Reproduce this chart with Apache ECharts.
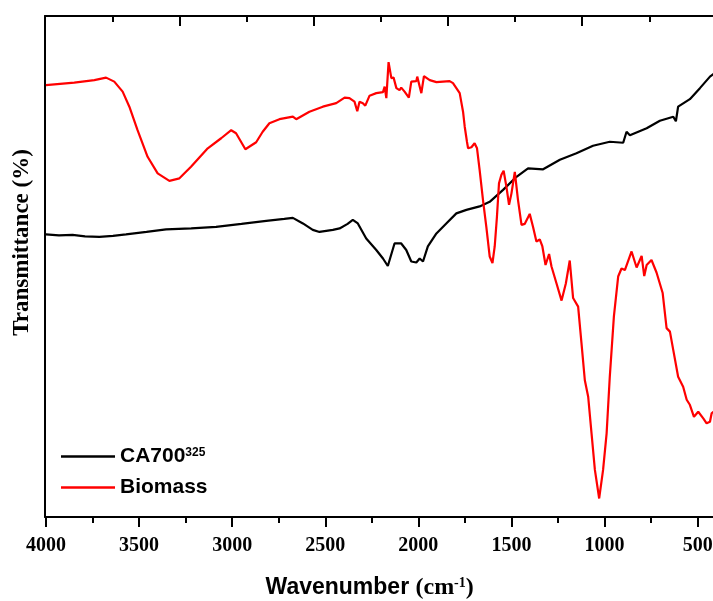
<!DOCTYPE html>
<html>
<head>
<meta charset="utf-8">
<script src="https://cdn.jsdelivr.net/npm/echarts@6/dist/echarts.min.js"></script>
<style>html,body{margin:0;padding:0;background:#fff;}#c{width:713px;height:601px;}</style>
</head>
<body>
<div id="c"></div>
<script>
// ---- data (wavenumber cm^-1, transmittance arbitrary %) ----
const seriesNames = ['CA700', 'Biomass'];
const legendSup = '325';
const majorTicks = [4000, 3500, 3000, 2500, 2000, 1500, 1000, 500];
const minorTicks = [3750, 3250, 2750, 2250, 1750, 1250, 750];
const topMajorTicks = [3280, 2560, 1840, 1120];
const topMinorTicks = [3640, 2920, 2200, 1480, 760];

const ca700 = [
  [4000,56.4],[3930,56.2],[3857,56.3],[3790,56.0],[3713,55.9],[3640,56.1],[3570,56.4],[3460,56.9],[3355,57.4],
  [3220,57.6],[3086,57.9],[2950,58.5],[2817,59.1],[2720,59.5],[2674,59.7],[2620,58.6],[2567,57.3],[2531,56.9],
  [2459,57.3],[2423,57.6],[2380,58.5],[2352,59.3],[2325,58.6],[2280,55.6],[2226,53.3],[2190,51.6],[2164,50.1],
  [2128,54.6],[2092,54.6],[2065,53.3],[2038,51.0],[2011,50.8],[1993,51.6],[1975,51.0],[1949,54.0],[1903,56.6],
  [1850,58.6],[1796,60.6],[1742,61.3],[1671,62.0],[1617,62.9],[1545,65.3],[1473,67.9],[1411,69.6],[1330,69.4],
  [1240,71.3],[1151,72.6],[1062,74.1],[972,74.9],[900,74.7],[882,76.9],[864,76.2],[774,77.6],[703,79.1],
  [631,79.9],[617,79.0],[605,81.9],[542,83.4],[488,85.6],[434,87.9],[400,88.8]
];

const biomass = [
  [4000,86.2],[3848,86.7],[3740,87.2],[3677,87.7],[3633,86.9],[3588,84.9],[3552,81.9],[3508,77.2],[3454,71.9],
  [3400,68.6],[3337,67.1],[3283,67.6],[3221,69.9],[3131,73.6],[3059,75.6],[3005,77.2],[2979,76.6],[2929,73.4],
  [2871,74.8],[2836,76.9],[2800,78.6],[2746,79.4],[2674,79.9],[2656,79.4],[2585,80.9],[2513,81.9],[2441,82.6],
  [2396,83.7],[2370,83.6],[2343,82.9],[2328,81.0],[2316,82.9],[2298,82.6],[2285,82.1],[2262,84.1],[2226,84.6],
  [2190,84.8],[2181,85.9],[2172,83.6],[2160,90.8],[2145,87.6],[2133,87.7],[2118,85.6],[2101,85.2],[2092,85.7],
  [2074,84.9],[2051,83.7],[2038,86.9],[2011,87.0],[2006,87.9],[1984,84.6],[1970,88.0],[1939,87.2],[1903,86.8],
  [1832,87.0],[1814,86.6],[1778,84.6],[1760,80.9],[1751,77.9],[1739,74.9],[1733,73.6],[1715,73.8],[1698,74.6],
  [1685,73.6],[1671,69.3],[1653,63.3],[1635,57.9],[1617,52.0],[1602,50.7],[1590,54.0],[1578,59.9],[1567,66.6],
  [1554,68.3],[1542,69.1],[1527,65.9],[1513,62.3],[1500,64.6],[1482,68.9],[1465,63.3],[1446,58.3],[1429,58.5],
  [1402,60.5],[1384,57.9],[1366,55.0],[1348,55.4],[1334,54.0],[1317,50.3],[1298,52.5],[1285,50.0],[1258,46.6],
  [1231,43.2],[1208,46.6],[1187,51.2],[1169,43.7],[1142,42.0],[1124,34.7],[1106,27.3],[1088,24.0],[1070,16.7],
  [1052,9.4],[1029,3.7],[1008,9.4],[989,16.7],[972,28.0],[950,40.0],[927,48.0],[909,49.6],[891,49.3],
  [855,53.0],[828,49.8],[801,52.1],[787,48.1],[774,50.3],[748,51.3],[721,48.8],[688,44.7],[667,37.7],
  [649,37.0],[631,33.3],[605,28.0],[578,26.0],[559,23.4],[542,22.4],[520,20.0],[497,21.0],[470,19.7],
  [452,18.7],[434,19.0],[425,20.7],[400,21.5]
];

const chart = echarts.init(document.getElementById('c'), null, {renderer: 'canvas'});
const black = '#000';
const serifBold = {fontFamily: 'Liberation Serif', fontWeight: 'bold', color: black};

function baseX(extra) {
  return Object.assign({
    type: 'value', gridIndex: 0, inverse: true, min: 400, max: 4005,
    splitLine: {show: false},
    axisLine: {show: false, onZero: false},
    axisLabel: {show: false},
    axisTick: {show: false}
  }, extra);
}

chart.setOption({
  animation: false,
  backgroundColor: '#fff',
  grid: {left: 45, top: 16, width: 671.3, height: 501, containLabel: false, outerBoundsMode: 'none'},
  legend: {
    orient: 'vertical', left: 56, top: 441, itemWidth: 54, itemHeight: 2.4, itemGap: 10,
    icon: 'rect',
    data: seriesNames,
    formatter: function (n) { return n === seriesNames[0] ? '{b|' + n + '}{s|' + legendSup + '}' : '{b|' + n + '}'; },
    textStyle: {
      rich: {
        b: {fontFamily: 'Liberation Sans', fontWeight: 'bold', fontSize: 21, color: black, lineHeight: 20},
        s: {fontFamily: 'Liberation Sans', fontWeight: 'bold', fontSize: 12, color: black, lineHeight: 20, verticalAlign: 'top', padding: [0, 0, 8, 0]}
      }
    }
  },
  xAxis: [
    baseX({
      position: 'bottom',
      axisLine: {show: true, onZero: false, lineStyle: {color: black, width: 2}},
      axisTick: {show: true, inside: false, length: 10, customValues: majorTicks, lineStyle: {color: black, width: 2}},
      axisLabel: Object.assign({show: true, customValues: majorTicks, fontSize: 20, margin: 19,
        formatter: function (v) { return String(v); }}, serifBold),
      name: '{a|Wavenumber }{b|(cm}{s|-1}{b|)}',
      nameLocation: 'middle', nameGap: 59,
      nameTextStyle: {
        padding: [0, 22, 0, 0],
        rich: {
          a: {fontFamily: 'Liberation Sans', fontWeight: 'bold', fontSize: 23, color: black, lineHeight: 24},
          b: {fontFamily: 'Liberation Serif', fontWeight: 'bold', fontSize: 24, color: black, lineHeight: 24},
          s: {fontFamily: 'Liberation Serif', fontWeight: 'bold', fontSize: 14, color: black, lineHeight: 24, verticalAlign: 'top'}
        }
      }
    }),
    baseX({
      position: 'bottom',
      axisTick: {show: true, inside: false, length: 6, customValues: minorTicks, lineStyle: {color: black, width: 2}}
    }),
    baseX({
      position: 'top',
      axisLine: {show: true, onZero: false, lineStyle: {color: black, width: 2}},
      axisTick: {show: true, inside: true, length: 10, customValues: topMajorTicks, lineStyle: {color: black, width: 2}}
    }),
    baseX({
      position: 'top',
      axisTick: {show: true, inside: true, length: 6, customValues: topMinorTicks, lineStyle: {color: black, width: 2}}
    })
  ],
  yAxis: {
    type: 'value', min: 0, max: 100, position: 'left',
    splitLine: {show: false},
    axisLine: {show: true, onZero: false, lineStyle: {color: black, width: 2}},
    axisTick: {show: false},
    axisLabel: {show: false},
    name: 'Transmittance (%)',
    nameLocation: 'middle', nameGap: 11,
    nameTextStyle: Object.assign({fontSize: 23, padding: [0, 0, 0, 48]}, serifBold)
  },
  series: [
    {name: seriesNames[0], type: 'line', xAxisIndex: 0, data: ca700, symbol: 'none',
     lineStyle: {color: black, width: 2.2}, itemStyle: {color: black}},
    {name: seriesNames[1], type: 'line', xAxisIndex: 0, data: biomass, symbol: 'none',
     lineStyle: {color: '#ff0000', width: 2.2}, itemStyle: {color: '#ff0000'}}
  ]
});
</script>
</body>
</html>
